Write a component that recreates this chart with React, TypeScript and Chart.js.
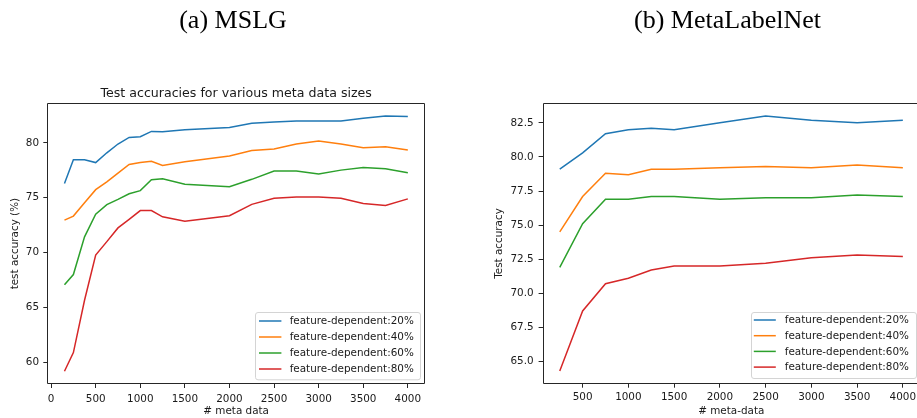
import React, { useEffect, useRef } from "react";
import { Chart, registerables } from "chart.js";
Chart.register(...registerables);

// ---------- data ----------
const seriesLabels = [
  "feature-dependent:20%",
  "feature-dependent:40%",
  "feature-dependent:60%",
  "feature-dependent:80%",
];
const seriesColors = ["#1f77b4", "#ff7f0e", "#2ca02c", "#d62728"];

// (a) MSLG
const mslgSizes = [150, 250, 375, 500, 625, 750, 875, 1000, 1125, 1250, 1500, 2000, 2250, 2500, 2750, 3000, 3250, 3500, 3750, 4000];
const mslg20 = [76.3, 78.47, 78.47, 78.21, 79.1, 79.9, 80.5, 80.56, 81.05, 81.03, 81.2, 81.4, 81.8, 81.9, 82.0, 82.0, 82.0, 82.25, 82.45, 82.4];
const mslg40 = [72.96, 73.33, 74.55, 75.74, 76.45, 77.24, 78.03, 78.22, 78.32, 77.94, 78.28, 78.8, 79.3, 79.45, 79.9, 80.18, 79.9, 79.55, 79.65, 79.35];
const mslg60 = [67.06, 68.0, 71.44, 73.5, 74.37, 74.85, 75.36, 75.65, 76.65, 76.74, 76.24, 76.0, 76.68, 77.43, 77.43, 77.16, 77.52, 77.76, 77.64, 77.28];
const mslg80 = [59.18, 60.88, 65.65, 69.77, 71.0, 72.25, 73.03, 73.83, 73.83, 73.26, 72.85, 73.36, 74.4, 74.95, 75.07, 75.07, 74.95, 74.47, 74.3, 74.9];
const mslgXTicks = [0, 500, 1000, 1500, 2000, 2500, 3000, 3500, 4000];
const mslgYTicks = [60, 65, 70, 75, 80];

// (b) MetaLabelNet
const mlnSizes = [250, 500, 750, 1000, 1250, 1500, 2000, 2500, 3000, 3500, 4000];
const mln20 = [79.1, 80.3, 81.7, 82.0, 82.1, 82.0, 82.5, 83.0, 82.7, 82.5, 82.7];
const mln40 = [74.5, 77.1, 78.8, 78.7, 79.1, 79.1, 79.2, 79.3, 79.2, 79.4, 79.2];
const mln60 = [71.9, 75.1, 76.9, 76.9, 77.1, 77.1, 76.9, 77.0, 77.0, 77.2, 77.1];
const mln80 = [64.3, 68.7, 70.7, 71.1, 71.7, 72.0, 72.0, 72.2, 72.6, 72.8, 72.7];
const mlnXTicks = [500, 1000, 1500, 2000, 2500, 3000, 3500, 4000];
const mlnYTicks = [65, 67.5, 70, 72.5, 75, 77.5, 80, 82.5];

const FONT = '"DejaVu Sans", Verdana, sans-serif';
const TXT = "#1a1a1a";
const AX = "#262626";

function limits(vals: number[]) {
  const mn = Math.min(...vals);
  const mx = Math.max(...vals);
  const m = (mx - mn) * 0.05;
  return [mn - m, mx + m];
}

const framePlugin = {
  id: "frame",
  afterDatasetsDraw(chart: any) {
    const { ctx, chartArea } = chart;
    const l = Math.round(chartArea.left) + 0.5;
    const r = Math.round(chartArea.right) - 0.5;
    const t = Math.round(chartArea.top) + 0.5;
    const b = Math.round(chartArea.bottom) - 0.5;
    ctx.save();
    ctx.strokeStyle = AX;
    ctx.lineWidth = 1;
    ctx.beginPath();
    ctx.rect(l, t, r - l, b - t);
    ctx.stroke();
    ctx.restore();
  },
};

const titlePlugin = {
  id: "plotTitle",
  afterDraw(chart: any, _a: any, opts: any) {
    if (!opts || !opts.text) return;
    const { ctx, chartArea } = chart;
    ctx.save();
    ctx.fillStyle = TXT;
    ctx.font = `${opts.size}px ${FONT}`;
    ctx.textAlign = "center";
    ctx.textBaseline = "alphabetic";
    ctx.fillText(opts.text, (chartArea.left + chartArea.right) / 2, opts.y);
    ctx.restore();
  },
};

const boxLegendPlugin = {
  id: "boxLegend",
  afterDraw(chart: any, _a: any, o: any) {
    const { ctx, chartArea } = chart;
    const x0 = chartArea.right - o.marginRight - o.width;
    const y0 = chartArea.bottom - o.marginBottom - o.height;
    ctx.save();
    ctx.beginPath();
    (ctx as any).roundRect(Math.round(x0) + 0.5, Math.round(y0) + 0.5, o.width, o.height, 2.5);
    ctx.fillStyle = "rgba(255,255,255,0.8)";
    ctx.fill();
    ctx.strokeStyle = "#d4d4d4";
    ctx.lineWidth = 1;
    ctx.stroke();
    chart.data.datasets.forEach((ds: any, i: number) => {
      const cy = y0 + o.firstRow + i * o.rowGap;
      ctx.strokeStyle = ds.borderColor;
      ctx.lineWidth = 1.5;
      ctx.beginPath();
      ctx.moveTo(x0 + o.lineStart, cy);
      ctx.lineTo(x0 + o.lineEnd, cy);
      ctx.stroke();
      ctx.fillStyle = TXT;
      ctx.font = `10.4px ${FONT}`;
      ctx.textAlign = "left";
      ctx.textBaseline = "middle";
      ctx.fillText(ds.label, x0 + o.textStart, cy + 0.5);
    });
    ctx.restore();
  },
};

type PanelCfg = {
  left: number;
  width: number;
  height: number;
  xs: number[];
  series: number[][];
  xTicks: number[];
  yTicks: number[];
  yFmt: (v: number) => string;
  xTitle: string;
  yTitle: string;
  padTop: number;
  padRight: number;
  yAxisW: number;
  xAxisH: number;
  xTickPad: number;
  yTickPad: number;
  yTitlePad: number;
  title?: string;
  legend: any;
};

function buildConfig(c: PanelCfg): any {
  const [xmin, xmax] = limits(c.xs);
  const [ymin, ymax] = limits(c.series.flat());
  const font = { family: FONT, size: 10.4 };
  return {
    type: "line",
    data: {
      datasets: c.series.map((vals, i) => ({
        label: seriesLabels[i],
        data: c.xs.map((x, j) => ({ x, y: vals[j] })),
        borderColor: seriesColors[i],
        backgroundColor: seriesColors[i],
        borderWidth: 1.5,
        pointRadius: 0,
        tension: 0,
        fill: false,
      })),
    },
    options: {
      responsive: false,
      animation: false,
      devicePixelRatio: 1,
      events: [],
      layout: { padding: { left: 0, top: c.padTop, right: c.padRight, bottom: 0 } },
      plugins: {
        legend: { display: false },
        tooltip: { enabled: false },
        title: { display: false },
        plotTitle: { text: c.title, size: 12.6, y: 96.5 },
        boxLegend: c.legend,
      },
      scales: {
        x: {
          type: "linear",
          min: xmin,
          max: xmax,
          afterFit: (s: any) => {
            s.height = c.xAxisH;
          },
          afterBuildTicks: (s: any) => {
            s.ticks = c.xTicks.map((v) => ({ value: v }));
          },
          ticks: {
            callback: (v: any) => String(v),
            font,
            color: TXT,
            padding: c.xTickPad,
            maxRotation: 0,
            autoSkip: false,
          },
          grid: {
            display: true,
            drawOnChartArea: false,
            drawTicks: true,
            tickLength: 4,
            color: AX,
            tickColor: AX,
            tickWidth: 1,
          },
          border: { display: false },
          title: {
            display: true,
            text: c.xTitle,
            font,
            color: TXT,
            padding: { top: 0, bottom: 0.3 },
          },
        },
        y: {
          type: "linear",
          min: ymin,
          max: ymax,
          afterFit: (s: any) => {
            s.width = c.yAxisW;
          },
          afterBuildTicks: (s: any) => {
            s.ticks = c.yTicks.map((v) => ({ value: v }));
          },
          ticks: {
            callback: (v: any) => c.yFmt(Number(v)),
            font,
            color: TXT,
            padding: c.yTickPad,
            autoSkip: false,
          },
          grid: {
            display: true,
            drawOnChartArea: false,
            drawTicks: true,
            tickLength: 4,
            color: AX,
            tickColor: AX,
            tickWidth: 1,
          },
          border: { display: false },
          title: {
            display: true,
            text: c.yTitle,
            font,
            color: TXT,
            padding: { top: c.yTitlePad, bottom: 0 },
          },
        },
      },
    },
    plugins: [framePlugin, boxLegendPlugin, titlePlugin],
  };
}

function Panel({ cfg }: { cfg: PanelCfg }) {
  const ref = useRef<HTMLCanvasElement>(null);
  useEffect(() => {
    const chart = new Chart(ref.current as HTMLCanvasElement, buildConfig(cfg));
    return () => chart.destroy();
  }, []);
  return (
    <canvas
      ref={ref}
      width={cfg.width}
      height={cfg.height}
      style={{ position: "absolute", left: cfg.left, top: 0, width: cfg.width, height: cfg.height }}
    />
  );
}

const leftCfg: PanelCfg = {
  left: 0,
  width: 460,
  height: 418,
  xs: mslgSizes,
  series: [mslg20, mslg40, mslg60, mslg80],
  xTicks: mslgXTicks,
  yTicks: mslgYTicks,
  yFmt: (v) => String(v),
  xTitle: "# meta data",
  yTitle: "test accuracy (%)",
  padTop: 103.3,
  padRight: 35,
  yAxisW: 47.3,
  xAxisH: 34,
  xTickPad: 4.8,
  yTickPad: 4.3,
  yTitlePad: 8.7,
  title: "Test accuracies for various meta data sizes",
  legend: { width: 165, height: 67.3, marginRight: 5, marginBottom: 5, firstRow: 9.3, rowGap: 16, lineStart: 4, lineEnd: 26.4, textStart: 34.7 },
};

const rightCfg: PanelCfg = {
  left: 460,
  width: 470,
  height: 418,
  xs: mlnSizes,
  series: [mln20, mln40, mln60, mln80],
  xTicks: mlnXTicks,
  yTicks: mlnYTicks,
  yFmt: (v) => v.toFixed(1),
  xTitle: "# meta-data",
  yTitle: "Test accuracy",
  padTop: 103.3,
  padRight: 10,
  yAxisW: 82.6,
  xAxisH: 34.3,
  xTickPad: 3.6,
  yTickPad: 5,
  yTitlePad: 33.3,
  legend: { width: 165, height: 66, marginRight: 4.5, marginBottom: 6, firstRow: 8.3, rowGap: 15.7, lineStart: 3.3, lineEnd: 25.3, textStart: 34.3 },
};

const capStyle: React.CSSProperties = {
  position: "absolute",
  top: 7.2,
  fontFamily: '"Liberation Serif", "Times New Roman", serif',
  fontSize: 26,
  lineHeight: "26px",
  color: "#000",
  textAlign: "center",
  whiteSpace: "nowrap",
};

export default function App() {
  return (
    <div
      style={{
        position: "fixed",
        left: 0,
        top: 0,
        width: 917,
        height: 418,
        overflow: "hidden",
        background: "#fff",
      }}
    >
      <Panel cfg={leftCfg} />
      <Panel cfg={rightCfg} />
      <div style={{ ...capStyle, left: 33, width: 400 }}>(a) MSLG</div>
      <div style={{ ...capStyle, left: 527.5, width: 400 }}>(b) MetaLabelNet</div>
    </div>
  );
}
